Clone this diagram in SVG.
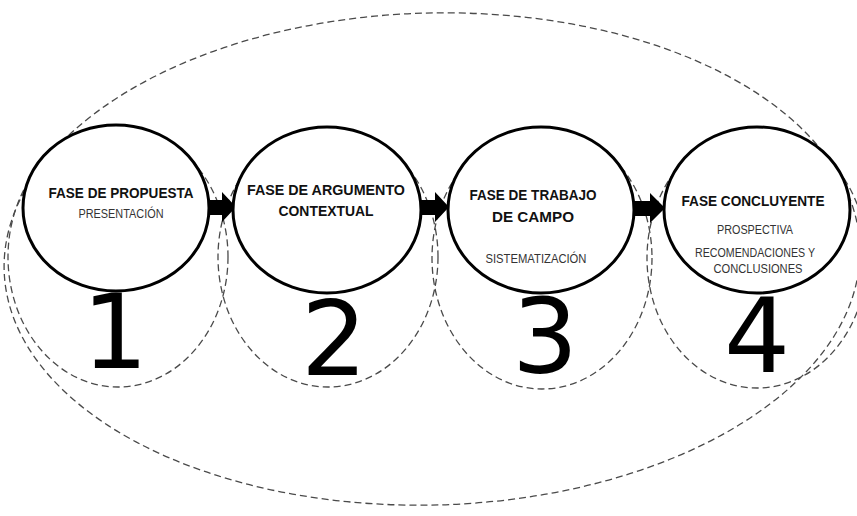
<svg xmlns="http://www.w3.org/2000/svg" width="857" height="516" viewBox="0 0 857 516">
  <style>
    .dash { fill: none; stroke: #4a4a4a; stroke-width: 1.3; stroke-dasharray: 7 4; }
    .phase { fill: #ffffff; stroke: #000000; stroke-width: 3; }
    .title { font-family: "Liberation Sans", Arial, sans-serif; font-weight: bold; font-size: 15.5px; fill: #111111; text-anchor: middle; }
    .sub { font-family: "Liberation Sans", Arial, sans-serif; font-size: 12px; fill: #333333; text-anchor: middle; }
    .num { font-family: "DejaVu Sans", sans-serif; font-size: 104px; fill: #000000; text-anchor: middle; }
    .arrow { fill: #000000; }
  </style>
  <rect width="857" height="516" fill="#ffffff"/>

  <!-- outer boundary enclosing all phases -->
  <ellipse class="dash" cx="432" cy="259" rx="428" ry="246" transform="rotate(-1.5 432 259)"/>

  <!-- dashed envelopes around each phase and its number -->
  <g id="envelopes">
    <ellipse class="dash" cx="118" cy="257" rx="110" ry="130"/>
    <ellipse class="dash" cx="328" cy="257" rx="110" ry="130"/>
    <ellipse class="dash" cx="542" cy="258" rx="110" ry="131"/>
    <ellipse class="dash" cx="757" cy="258" rx="110" ry="130"/>
  </g>

  <!-- connectors between phases -->
  <g id="connectors">
    <path class="arrow" d="M205,200 H222 V192 L236,207 L222,222 V215 H205 Z"/>
    <path class="arrow" d="M419,200 H435 V192 L449,207 L435,222 V215 H419 Z"/>
    <path class="arrow" d="M632,201 H650 V193 L665,208 L650,223 V216 H632 Z"/>
  </g>

  <g id="phase1">
    <ellipse class="phase" cx="116" cy="208" rx="93" ry="83"/>
    <text class="title" x="121" y="198" textLength="145" lengthAdjust="spacingAndGlyphs">FASE DE PROPUESTA</text>
    <text class="sub" x="121" y="218" textLength="85" lengthAdjust="spacingAndGlyphs">PRESENTACIÓN</text>
    <text class="num" x="115" y="368">1</text>
  </g>

  <g id="phase2">
    <ellipse class="phase" cx="327" cy="210" rx="94" ry="83"/>
    <text class="title" x="326" y="195" textLength="158" lengthAdjust="spacingAndGlyphs">FASE DE ARGUMENTO</text>
    <text class="title" x="326" y="216" textLength="95" lengthAdjust="spacingAndGlyphs">CONTEXTUAL</text>
    <text class="num" x="334" y="375">2</text>
  </g>

  <g id="phase3">
    <ellipse class="phase" cx="541" cy="210" rx="93" ry="83"/>
    <text class="title" x="533" y="200" textLength="127" lengthAdjust="spacingAndGlyphs">FASE DE TRABAJO</text>
    <text class="title" x="533" y="222" textLength="82" lengthAdjust="spacingAndGlyphs">DE CAMPO</text>
    <text class="sub" x="536" y="263" textLength="101" lengthAdjust="spacingAndGlyphs">SISTEMATIZACIÓN</text>
    <text class="num" x="545" y="373">3</text>
  </g>

  <g id="phase4">
    <ellipse class="phase" cx="757" cy="210" rx="93" ry="83"/>
    <text class="title" x="753" y="206" textLength="143" lengthAdjust="spacingAndGlyphs">FASE CONCLUYENTE</text>
    <text class="sub" x="755" y="234" textLength="76" lengthAdjust="spacingAndGlyphs">PROSPECTIVA</text>
    <text class="sub" x="755" y="257" textLength="120" lengthAdjust="spacingAndGlyphs">RECOMENDACIONES Y</text>
    <text class="sub" x="758" y="273" textLength="89" lengthAdjust="spacingAndGlyphs">CONCLUSIONES</text>
    <text class="num" x="757" y="372">4</text>
  </g>
</svg>
